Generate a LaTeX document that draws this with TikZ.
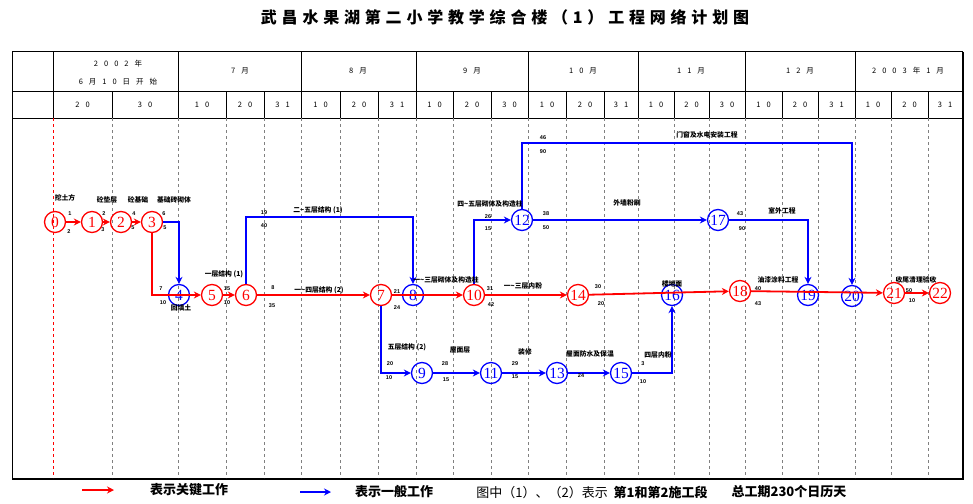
\documentclass[tikz,border=0pt]{standalone}
\usepackage{fontspec}
\setmainfont{Liberation Serif}
\newfontfamily\cjk{Noto Sans CJK SC}
\newfontfamily\titlefont[LetterSpace=30]{Noto Sans CJK SC}
\newfontfamily\hdrfont[LetterSpace=80]{Noto Sans CJK SC}
\newfontfamily\numfont{Liberation Sans}
\usetikzlibrary{arrows.meta}
\tikzset{
    crit/.style = {draw=red, line width=1.8pt, -{Stealth[length=7pt,width=7pt]}},
    norm/.style = {draw=blue, line width=1.8pt, -{Stealth[length=7pt,width=7pt]}},
    ev/.style = {circle, draw, line width=1.3pt, minimum size=21pt, inner sep=0pt, font=\fontsize{15.5}{15.5}\selectfont},
    redev/.style = {ev, red},
    blueev/.style = {ev, blue},
    work/.style = {font=\cjk\bfseries\fontsize{6.8}{7}\selectfont, inner sep=0pt},
    num/.style = {font=\numfont\bfseries\fontsize{5.5}{6}\selectfont, inner sep=0pt},
    hdr/.style = {font=\hdrfont\fontsize{7.5}{9}\selectfont, inner sep=0pt},
    legend/.style = {font=\cjk\bfseries\fontsize{13}{13}\selectfont, inner sep=0pt},
    colline/.style = {gray, dashed, line width=0.6pt}
}

\begin{document}
\begin{tikzpicture}[x=1pt, y=-1pt]
    \useasboundingbox (0,0) rectangle (973,503);
    \node[font=\titlefont\bfseries\fontsize{16}{16}\selectfont] (title) at (505,17) {武昌水果湖第二小学教学综合楼（1）工程网络计划图};

    % frame and time scale
    \draw[line width=1pt] (12,52) rectangle (962,478);
    \draw[line width=2.5pt] (963,52) -- (963,479) -- (12,479);
    \draw[line width=0.8pt] (12,91) -- (962,91) (12,118) -- (962,118);
    \foreach \x in {53,178,301,416,528,638,745,855}
        \draw[line width=0.8pt] (\x,52) -- (\x,118);
    \foreach \x in {112,226,264,340,378,453,491,566,604,674,709,782,818,891,928}
        \draw[line width=0.8pt] (\x,91) -- (\x,118);
    \draw[red, dashed, line width=0.6pt] (53,118) -- (53,478);
    \foreach \x in {112,178,226,264,301,340,378,416,453,491,528,566,604,638,674,709,745,782,818,855,891,928}
        \draw[colline] (\x,118) -- (\x,478);

    \node[hdr] (y02) at (118,64) {2002年};
    \node[hdr] (start) at (118,82) {6月10日开始};
    \foreach \t/\x [count=\i] in {7月/240, 8月/358, 9月/472, 10月/583, 11月/691, 12月/800, 2003年1月/908}
        \node[hdr] (mon\i) at (\x,71) {\t};
    \foreach \a/\b/\t [count=\i] in {53/112/20, 112/178/30, 178/226/10, 226/264/20, 264/301/31, 301/340/10, 340/378/20, 378/416/31,
        416/453/10, 453/491/20, 491/528/30, 528/566/10, 566/604/20, 604/638/31, 638/674/10, 674/709/20, 709/745/30,
        745/782/10, 782/818/20, 818/855/31, 855/891/10, 891/928/20, 928/962/31}
        \node[hdr] (day\i) at ({(\a+\b)/2},105) {\t};

    % events
    \foreach \n/\x/\y/\s in {0/55/222/redev, 1/92/222/redev, 2/121/222/redev, 3/152/222/redev, 4/179/295/blueev,
        5/212/295/redev, 6/246/295/redev, 7/381/295/redev, 8/413/295/blueev, 9/422/373/blueev, 10/474/295/redev,
        11/491/373/blueev, 12/522/220/blueev, 13/557/373/blueev, 14/578/295/redev, 15/621/373/blueev,
        16/672/295/blueev, 17/718/220/blueev, 18/740/291/redev, 19/808/295/blueev, 20/852/296/blueev,
        21/894/293/redev, 22/940/293/redev}
        \node[\s] (\n) at (\x,\y) {\n};
    \coordinate (c68) at (413,217);
    \coordinate (c1220) at (852,143);

    % work
    \draw[crit] (0) -- (1);
    \draw[crit] (1) -- (2);
    \draw[crit] (2) -- (3);
    \draw[norm] (3) -| (4);
    \draw[crit] (3) |- (5);
    \draw[crit] (5) -- (6);
    \draw[norm] (6) |- (c68) -- (8);
    \draw[crit] (6) -- (7);
    \draw[crit] (7) -- (10);
    \draw[norm] (7) |- (9);
    \draw[norm] (9) -- (11);
    \draw[norm] (11) -- (13);
    \draw[norm] (13) -- (15);
    \draw[norm] (15) -| (16);
    \draw[norm] (10) |- (12);
    \draw[crit] (10) -- (14);
    \draw[crit] (14) -- (18);
    \draw[norm] (12) -- (17);
    \draw[norm] (12) |- (c1220) -- (20);
    \draw[norm] (17) -| (19);
    \draw[crit] (18) -- (21);
    \draw[crit] (21) -- (22);

    \foreach \x/\y/\t [count=\i] in {65/198/挖土方, 107/200/砼垫层, 138/200/砼基础, 174/200/基础砖砌体, 181/308/回填土,
        224/274/一层结构 (1), 318/210/二\textasciitilde 五层结构 (1), 319/290/一\textasciitilde 四层结构 (2),
        446/280/一\textasciitilde 三层砌体及构造柱, 490/204/四\textasciitilde 五层砌体及构造柱, 523/286/一\textasciitilde 三层内粉,
        627/203/外墙粉刷, 707/135/门窗及水电安装工程, 782/211/室外工程, 672/284/楼地面, 778/280/油漆涂料工程,
        916/280/收尾清理验收, 407/347/五层结构 (2), 460/350/屋面层, 525/352/装修, 590/354/屋面防水及保温, 658/355/四层内粉}
        \node[work] (w\i) at (\x,\y) {\t};
    \foreach \x/\y/\t [count=\i] in {70/214/1, 69/232/2, 104/214/2, 103/230/3, 134/214/4, 133/228/5, 164/214/6, 165/228/5,
        161/289/7, 163/303/10, 227/289/15, 227/303/10, 264/213/19, 264/226/40, 273/288/8, 272/306/35,
        397/292/21, 397/308/24, 488/217/26, 488/229/15, 490/289/31, 491/305/42, 546/214/38, 546/228/50,
        543/138/46, 543/152/90, 598/287/30, 601/304/20, 740/214/43, 742/229/90, 758/289/40, 758/304/43,
        909/291/50, 912/301/10, 390/364/20, 389/378/10, 445/364/28, 446/380/15, 515/364/29, 515/377/15,
        581/376/24, 643/364/3, 643/382/10}
        \node[num] (t\i) at (\x,\y) {\t};

    % legend
    \coordinate (lr1) at (82,490);
    \coordinate (lr2) at (114,490);
    \coordinate (lb1) at (300,492);
    \coordinate (lb2) at (331,492);
    \draw[crit] (lr1) -- (lr2);
    \draw[norm] (lb1) -- (lb2);
    \node[legend] (keyred) at (189,490) {表示关键工作};
    \node[legend] (keyblue) at (394,492) {表示一般工作};
    \node[legend] (keysec) at (592,492) {\mdseries 图中（1）、（2）表示\ \ \bfseries 第1和第2施工段};
    \node[legend] (keytotal) at (789,492) {总工期230个日历天};
\end{tikzpicture}
\end{document}
